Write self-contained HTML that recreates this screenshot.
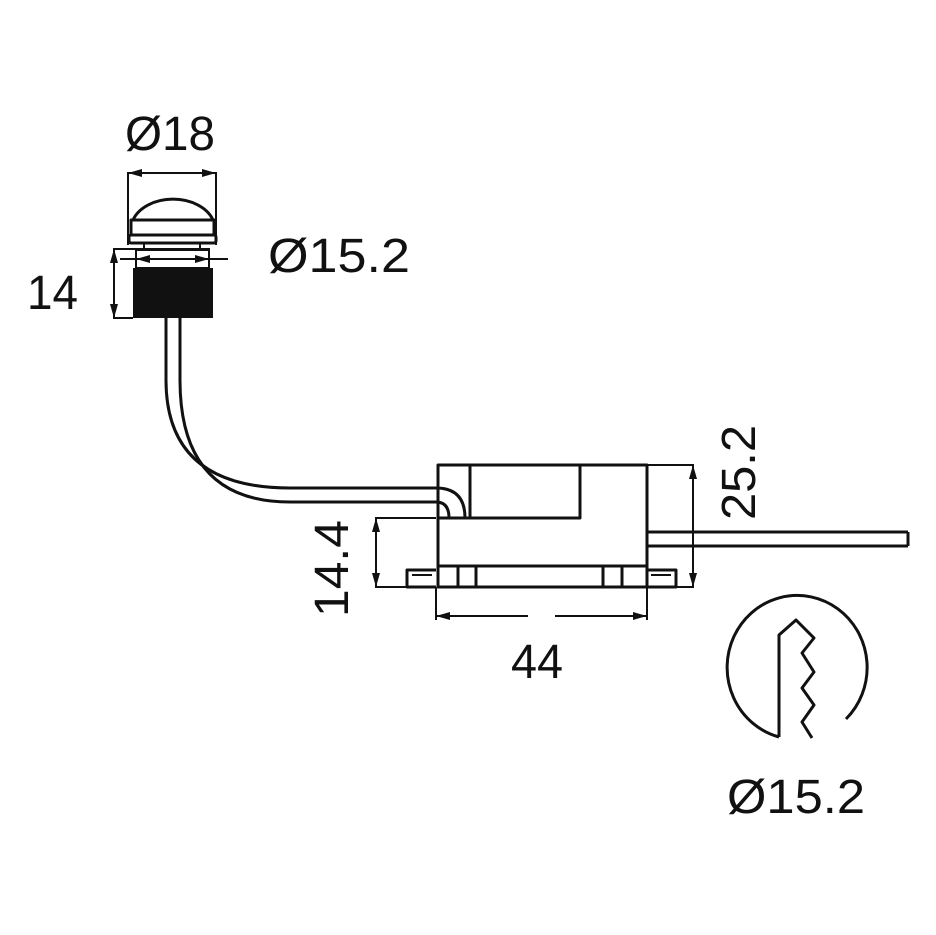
<!DOCTYPE html>
<html><head><style>html,body{margin:0;padding:0;background:#fff;}svg{display:block}</style></head>
<body>
<svg width="936" height="935" viewBox="0 0 936 935" xmlns="http://www.w3.org/2000/svg">
<g fill="none" stroke="#111" stroke-width="3" stroke-linejoin="round">
<path d="M133 220 A42 30 0 0 1 213 220"/>
<rect x="131" y="220" width="83" height="15"/>
<rect x="129" y="235" width="87" height="8" rx="2"/>
<line x1="144" y1="243" x2="144" y2="250" stroke-width="2"/>
<line x1="200" y1="243" x2="200" y2="250" stroke-width="2"/>
<rect x="136" y="250" width="73" height="18" stroke-width="2"/>
<path d="M166 318 V380 Q166 488 290 488 H436 Q465 488 465 518"/>
<path d="M180 318 V380 Q180 502 290 502 H436 Q449 502 449 518"/>
<path d="M438 587 V465 H647 V587"/>
<path d="M438 518 H470"/>
<rect x="470" y="465" width="110" height="53"/>
<rect x="438" y="566" width="209" height="21"/>
<rect x="458" y="566" width="18" height="21"/>
<rect x="603" y="566" width="19" height="21"/>
<path d="M436 570 H407 V587 H436"/><path d="M412 575 H432" stroke-width="2"/>
<path d="M647 570 H676 V587 H647"/><path d="M651 575 H671" stroke-width="2"/>
<line x1="647" y1="532" x2="908" y2="532"/>
<line x1="647" y1="546" x2="908" y2="546"/>
<line x1="908" y1="532" x2="908" y2="546"/>
<path d="M779 737 A70 72 0 1 1 846 719"/>
<polyline points="779,737 779,635 796,620 814,638 802,653 814,672 802,688 814,705 802,722 812,738"/>
</g>
<rect x="133" y="268" width="80" height="50" fill="#111"/>
<g stroke="#111" stroke-width="2" fill="none">
<path d="M128 245 V173 H216 V245"/>
<line x1="120" y1="259" x2="228" y2="259"/>
<path d="M210 249 H114 V318 H133"/>
<path d="M436 518 H376 V587 H407"/>
<path d="M647 465 H693 V587 H676"/>
<path d="M436 587 V620 M647 587 V620 M436 616 H528 M555 616 H647"/>
</g>
<g fill="#111">
<polygon points="128,173 142,169 142,177"/><polygon points="216,173 202,169 202,177"/>
<polygon points="136,259 150,255 150,263"/><polygon points="209,259 195,255 195,263"/>
<polygon points="114,249 110,263 118,263"/><polygon points="114,318 110,304 118,304"/>
<polygon points="376,518 372,532 380,532"/><polygon points="376,587 372,573 380,573"/>
<polygon points="693,465 689,479 697,479"/><polygon points="693,587 689,573 697,573"/>
<polygon points="436,616 450,612 450,620"/><polygon points="647,616 633,612 633,620"/>
</g>
<g font-family="Liberation Sans, sans-serif" font-size="48" fill="#111">
<text x="125" y="150" textLength="90" lengthAdjust="spacingAndGlyphs">Ø18</text>
<text x="268" y="272" textLength="142" lengthAdjust="spacingAndGlyphs">Ø15.2</text>
<text x="27" y="309" textLength="51" lengthAdjust="spacingAndGlyphs">14</text>
<text x="511" y="678" textLength="52" lengthAdjust="spacingAndGlyphs">44</text>
<text x="727" y="813" textLength="138" lengthAdjust="spacingAndGlyphs">Ø15.2</text>
<text transform="translate(755,520) rotate(-90)" textLength="95" lengthAdjust="spacingAndGlyphs">25.2</text>
<text transform="translate(348,617) rotate(-90)" textLength="97" lengthAdjust="spacingAndGlyphs">14.4</text>
</g>
</svg>
</body></html>
